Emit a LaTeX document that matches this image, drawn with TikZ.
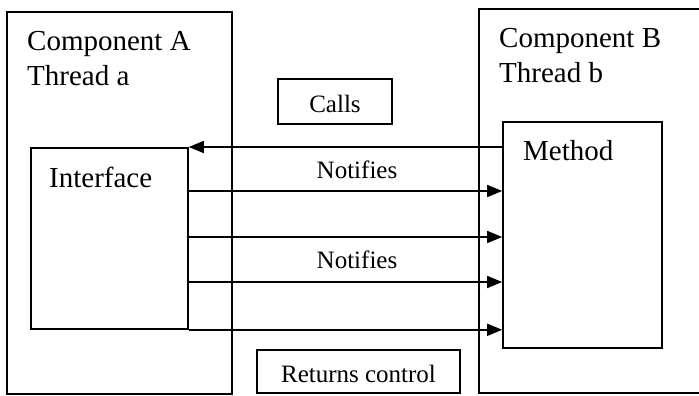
\documentclass[tikz,border=0pt]{standalone}
\usepackage{fontspec}
\setmainfont{Liberation Serif}
\usetikzlibrary{arrows.meta}

\begin{document}
\begin{tikzpicture}[x=1pt,y=-1pt]
  \tikzset{box/.style = {shape=rectangle,draw,line width=1.6pt,inner sep=0pt}}
  \tikzset{edge/.style = {line width=1.6pt}}
  \tikzset{bigtext/.style = {font=\fontsize{29}{35}\selectfont,inner sep=0pt,align=left}}
  \tikzset{smalltext/.style = {font=\fontsize{25}{30}\selectfont,inner sep=0pt}}
  \tikzset{%
  tipA/.tip={Triangle[length=15pt,width=12pt]},
}

  \useasboundingbox (0,0) rectangle (699,396);
  \clip (0,0) rectangle (699,396);

	\node[box,minimum width=225pt,minimum height=382pt] (CA) at (119.5,203) {};
	\node[box,minimum width=241pt,minimum height=384pt] (CB) at (599.5,201) {};
	\node[box,minimum width=157pt,minimum height=181pt] (Interface) at (109.5,238.5) {};
	\node[box,minimum width=159pt,minimum height=226pt] (Method) at (582.5,235) {};
	\node[box,minimum width=114pt,minimum height=45pt] (Calls) at (335,101.5) {};
	\node[box,minimum width=203pt,minimum height=43pt] (Returns) at (358.5,371.5) {};

	\node[bigtext,anchor=base west] (CAtext) at (27,85) {Component A\\Thread a};
	\node[bigtext,anchor=base west] (CBtext) at (499,82) {Component B\\Thread b};
	\node[bigtext,anchor=base west] (Itext) at (49,187) {Interface};
	\node[bigtext,anchor=base west] (Mtext) at (523,160) {Method};
	\node[smalltext,anchor=base] (Ctext) at (Calls |- 0,112) {Calls};
	\node[smalltext,anchor=base] (Rtext) at (Returns |- 0,382) {Returns control};
	\node[smalltext,anchor=base] (N1) at (357,178) {Notifies};
	\node[smalltext,anchor=base] (N2) at (357,268) {Notifies};

    \path[edge,-tipA] (Method.west |- 0,147) edge (Interface.east |- 0,147);

    \foreach \y in {191,237,282}
    \path[edge,-tipA] (Interface.east |- 0,\y) edge (Method.west |- 0,\y);

    \path[edge,-tipA] (Interface.south east) edge (Method.west |- Interface.south east);

\end{tikzpicture}
\end{document}
